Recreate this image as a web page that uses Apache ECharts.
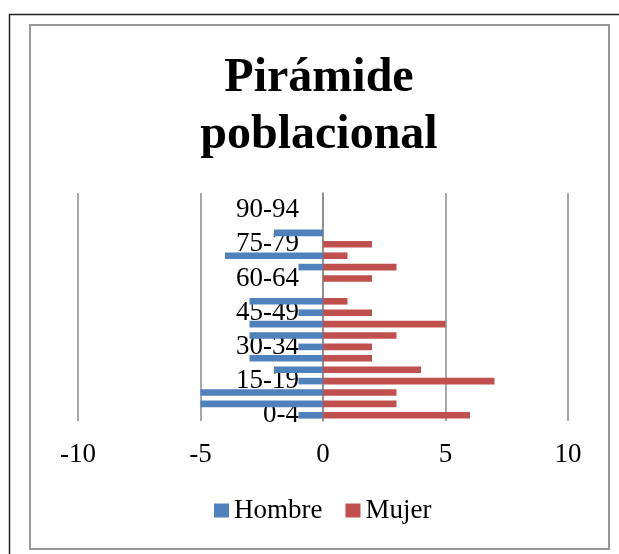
<!DOCTYPE html>
<html>
<head>
<meta charset="utf-8">
<script src="https://cdn.jsdelivr.net/npm/echarts@6/dist/echarts.min.js"></script>
<style>
html,body{margin:0;padding:0;background:#fff;}
#c{width:619px;height:554px;}
</style>
</head>
<body>
<div id="c"></div>
<script>
var categories = ["0-4","5-9","10-14","15-19","20-24","25-29","30-34","35-39","40-44","45-49","50-54","55-59","60-64","65-69","70-74","75-79","80-84","85-89","90-94","95-99"];
var hombre = [-1,-5,-5,-1,-2,-3,-1,-3,-3,-1,-3,0,0,-1,-4,0,-2,0,0,0];
var mujer = [6,3,3,7,4,2,2,3,5,2,1,0,2,3,1,2,0,0,0,0];
var xTicks = {min:-10, max:10, interval:5};
var titleText = "Pirámide\npoblacional";
var seriesNames = ["Hombre","Mujer"];

var FONT = "'Liberation Serif', 'Times New Roman', serif";
var GRID = {left:78, right:51, top:193, bottom:133};
var plotW = 619 - GRID.left - GRID.right;
var chart = echarts.init(document.getElementById('c'), null, {renderer:'canvas'});
chart.setOption({
  animation:false,
  backgroundColor:'#fff',
  title:{
    text:titleText,
    left:319,
    textAlign:'center',
    top:50,
    padding:0,
    textStyle:{fontFamily:FONT, fontWeight:'bold', fontSize:48, lineHeight:57, color:'#000'}
  },
  legend:{
    data:seriesNames,
    left:214,
    top:497,
    padding:0,
    icon:'rect',
    itemWidth:15,
    itemHeight:14,
    itemGap:23,
    textStyle:{fontFamily:FONT, fontSize:27, color:'#000'}
  },
  grid:{left:GRID.left, right:GRID.right, top:GRID.top, bottom:GRID.bottom, containLabel:false, outerBoundsMode:'none'},
  xAxis:{
    type:'value', min:xTicks.min, max:xTicks.max, interval:xTicks.interval,
    axisLine:{show:false}, axisTick:{show:false},
    splitLine:{show:true, lineStyle:{color:'#8a8a8a', width:1.5}},
    axisLabel:{fontFamily:FONT, fontSize:27, color:'#000', margin:20}
  },
  yAxis:{
    type:'category', data:categories,
    position:'left',
    offset:-plotW/2,
    axisLine:{show:true, onZero:false, lineStyle:{color:'#8a8a8a', width:1.5}},
    axisTick:{show:false},
    axisLabel:{interval:2, fontFamily:FONT, fontSize:27, color:'#000', margin:24}
  },
  series:[
    {name:seriesNames[0], type:'bar', data:hombre, barWidth:'58%', barGap:'-100%', itemStyle:{color:'#4F81BD'}},
    {name:seriesNames[1], type:'bar', data:mujer, barWidth:'58%', barGap:'-100%', itemStyle:{color:'#C0504D'}}
  ],
  graphic:[
    {type:'polyline', shape:{points:[[9.5,554],[9.5,14.5],[619,14.5]]}, style:{fill:null, stroke:'#222', lineWidth:1.5}, silent:true},
    {type:'rect', shape:{x:30, y:25, width:579, height:524}, style:{fill:null, stroke:'#999', lineWidth:2}, silent:true}
  ]
});
</script>
</body>
</html>
